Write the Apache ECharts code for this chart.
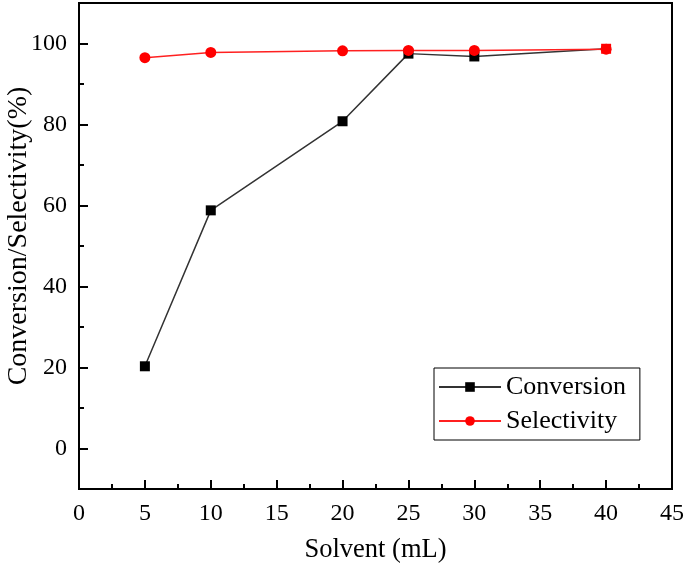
<!DOCTYPE html>
<html><head><meta charset="utf-8">
<script src="https://cdn.jsdelivr.net/npm/echarts@6/dist/echarts.min.js"></script>
<style>html,body{margin:0;padding:0;background:#fff}#c{width:685px;height:567px}</style>
</head><body><div id="c"></div>
<script>
const solvent = [5, 10, 20, 25, 30, 40];
const conversion = [20.3, 58.8, 80.8, 97.5, 96.8, 98.7];
const selectivity = [96.5, 97.8, 98.2, 98.3, 98.3, 98.6];
const yMajorTicks = [0, 20, 40, 60, 80, 100];
const yMinorTicks = [10, 30, 50, 70, 90];

const font = '"Liberation Serif", "Times New Roman", serif';
const chart = echarts.init(document.getElementById('c'));
const lastIdx = solvent.length - 1;
chart.setOption({
  animation: false,
  grid: {left: 79, right: 13, top: 3, bottom: 78, containLabel: false, outerBoundsMode: 'none',
         show: true, borderColor: '#000', borderWidth: 2, backgroundColor: 'transparent'},
  legend: {
    left: 434, top: 368, orient: 'vertical',
    borderColor: '#000', borderWidth: 1, padding: [6, 14, 6, 4],
    itemWidth: 62, itemHeight: 12, itemGap: 8,
    textStyle: {fontFamily: font, fontSize: 26, color: '#000'},
    data: ['Conversion', 'Selectivity']
  },
  xAxis: {
    type: 'value', min: 0, max: 45, interval: 5,
    name: 'Solvent (mL)', nameLocation: 'middle', nameGap: 48, nameMoveOverlap: false,
    nameTextStyle: {fontFamily: font, fontSize: 26.5, color: '#000'},
    axisLine: {onZero: false, lineStyle: {color: '#000', width: 2}},
    axisTick: {inside: true, length: 9, lineStyle: {color: '#000', width: 2}},
    minorTick: {show: true, splitNumber: 2, length: 5, lineStyle: {color: '#000', width: 2}},
    axisLabel: {fontFamily: font, fontSize: 24, color: '#000', margin: 13},
    splitLine: {show: false}
  },
  yAxis: [{
    type: 'value', min: -10, max: 110,
    name: 'Conversion/Selectivity(%)', nameLocation: 'middle', nameGap: 46, nameMoveOverlap: false,
    nameTextStyle: {fontFamily: font, fontSize: 28, color: '#000', padding: [0, 0, 0, 20]},
    axisLine: {onZero: false, lineStyle: {color: '#000', width: 2}},
    axisTick: {inside: true, length: 9, customValues: yMajorTicks, lineStyle: {color: '#000', width: 2}},
    axisLabel: {fontFamily: font, fontSize: 24, color: '#000', margin: 12, customValues: yMajorTicks},
    splitLine: {show: false}
  }, {
    type: 'value', min: -10, max: 110, position: 'left',
    axisLine: {show: false, onZero: false},
    axisTick: {show: true, inside: true, length: 5, customValues: yMinorTicks, lineStyle: {color: '#000', width: 2}},
    axisLabel: {show: false, customValues: yMinorTicks},
    splitLine: {show: false}
  }],
  series: [{
    name: 'Conversion', type: 'line', yAxisIndex: 0,
    data: solvent.map((x, i) => i === lastIdx
      ? {value: [x, conversion[i]], itemStyle: {color: '#ff0000'}}
      : [x, conversion[i]]),
    symbol: 'rect', symbolSize: 10,
    itemStyle: {color: '#000'},
    lineStyle: {color: '#333', width: 1.5}
  }, {
    name: 'Selectivity', type: 'line', yAxisIndex: 0,
    data: solvent.map((x, i) => [x, selectivity[i]]),
    symbol: 'circle', symbolSize: 11,
    itemStyle: {color: '#ff0000'},
    lineStyle: {color: '#ff2020', width: 1.5}
  }]
});
</script></body></html>
